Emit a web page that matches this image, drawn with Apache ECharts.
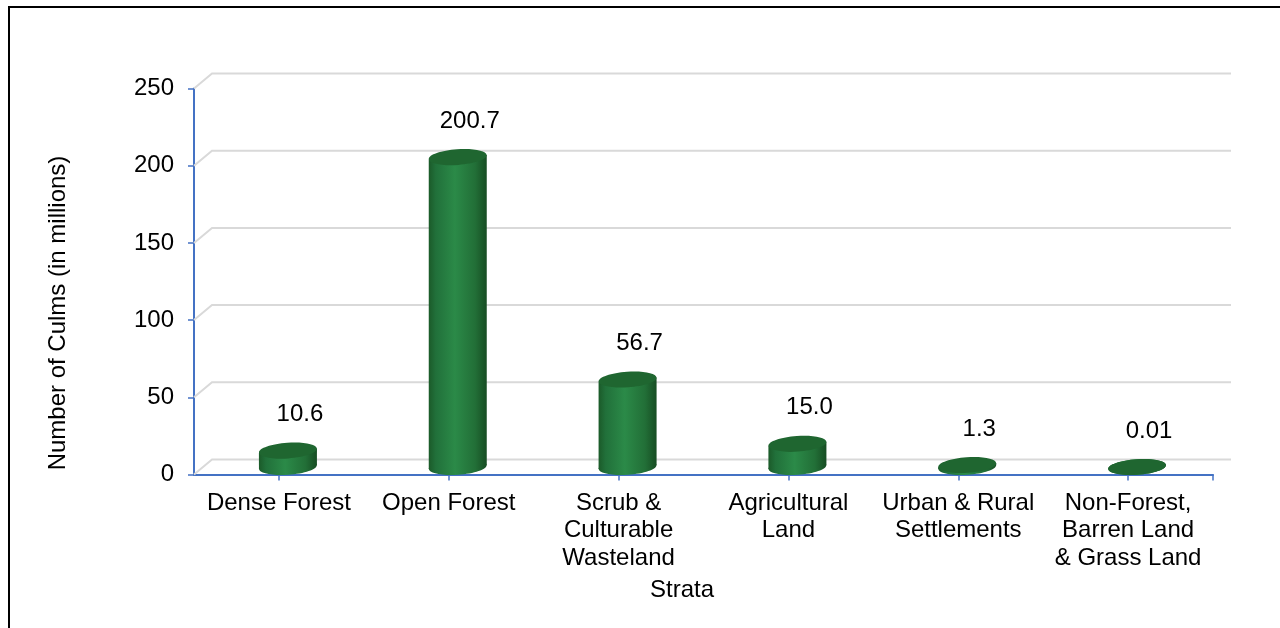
<!DOCTYPE html>
<html>
<head>
<meta charset="utf-8">
<script src="https://cdn.jsdelivr.net/npm/echarts@6/dist/echarts.min.js"></script>
<style>
html,body{margin:0;padding:0;background:#fff;overflow:hidden;}
#frame{position:absolute;left:8px;top:6px;width:1400px;height:800px;border:2.5px solid #000;box-sizing:border-box;}
#chart{position:absolute;left:0;top:0;width:1280px;height:628px;}
</style>
</head>
<body>
<div id="frame"></div>
<div id="chart"></div>
<script>
var categories = ['Dense Forest', 'Open Forest', 'Scrub &\nCulturable\nWasteland', 'Agricultural\nLand', 'Urban & Rural\nSettlements', 'Non-Forest,\nBarren Land\n& Grass Land'];
var values = [10.6, 200.7, 56.7, 15.0, 1.3, 0.01];
var valueLabels = ['10.6', '200.7', '56.7', '15.0', '1.3', '0.01'];
var yTicks = [0, 50, 100, 150, 200, 250];
var yAxisName = 'Number of Culms (in millions)';
var xAxisName = 'Strata';

var FONT = '"Liberation Sans", Arial, sans-serif';
var DX = 18, DY = -15;          // 3D back-wall offset
var CX = 9, CY = -7.5;          // cylinder depth offset
var RX = 29, RY = 7.8;          // cylinder radius / ellipse height
var TILT = 0.07;                // slight perspective tilt of the ellipses

var chart = echarts.init(document.getElementById('chart'), null, {renderer: 'canvas'});

function bodyGrad() {
  return new echarts.graphic.LinearGradient(0, 0, 1, 0, [
    {offset: 0, color: '#1b5a29'},
    {offset: 0.12, color: '#21703a'},
    {offset: 0.45, color: '#2b8a48'},
    {offset: 0.8, color: '#226f37'},
    {offset: 1, color: '#174d23'}
  ]);
}

var option = {
  animation: false,
  backgroundColor: 'transparent',
  grid: {left: 194, right: 67, top: 88.5, bottom: 153.5, containLabel: false},
  xAxis: {
    type: 'category',
    data: categories,
    boundaryGap: true,
    axisLine: {show: true, lineStyle: {color: '#4472C4', width: 2}},
    axisTick: {show: true, alignWithLabel: true, length: 6, lineStyle: {color: '#4472C4', width: 1.5}},
    axisLabel: {interval: 0, color: '#000', fontSize: 24, fontFamily: FONT, lineHeight: 27.5, margin: 15},
    splitLine: {show: false}
  },
  yAxis: {
    type: 'value',
    min: 0, max: 250, interval: 50,
    axisLine: {show: true, lineStyle: {color: '#4472C4', width: 2}},
    axisTick: {show: true, length: 6, lineStyle: {color: '#4472C4', width: 1.5}},
    axisLabel: {color: '#000', fontSize: 24, fontFamily: FONT, margin: 20},
    splitLine: {show: false}
  },
  graphic: [
    {type: 'text', x: 58, y: 313, rotation: Math.PI / 2,
     style: {text: yAxisName, fill: '#000', font: '24px ' + FONT, textAlign: 'center', textVerticalAlign: 'middle'}},
    {type: 'text', x: 682, y: 590,
     style: {text: xAxisName, fill: '#000', font: '24px ' + FONT, textAlign: 'center', textVerticalAlign: 'middle'}}
  ],
  series: [
    {
      type: 'custom',
      z: 1,
      silent: true,
      data: yTicks.map(function (v) { return [0, v]; }),
      renderItem: function (params, api) {
        var cs = params.coordSys;
        var v = api.value(1);
        var y = api.coord([0, v])[1];
        var x0 = cs.x, x1 = cs.x + cs.width;
        var children = [{
          type: 'polyline',
          shape: {points: [[x0, y], [x0 + DX, y + DY], [x1 + DX, y + DY]]},
          style: {stroke: '#d9d9d9', lineWidth: 2, fill: null}
        }];
        if (v === 0) {
          children.push({type: 'line', shape: {x1: x1, y1: y, x2: x1, y2: y + 6},
            style: {stroke: '#4472C4', lineWidth: 1.5}, z2: 10});
        }
        return {type: 'group', children: children};
      }
    },
    {
      type: 'custom',
      z: 5,
      silent: true,
      data: values.map(function (v, i) { return [i, v]; }),
      renderItem: function (params, api) {
        var i = api.value(0), v = api.value(1);
        var top = api.coord([i, v]);
        var base = api.coord([i, 0]);
        var cx = top[0] + CX;
        var ty = top[1] + CY;
        var by = base[1] + CY;
        var h = Math.max(0, by - ty);
        var t = RX * Math.sin(TILT);
        var children = [];
        children.push({type: 'ellipse', shape: {cx: cx, cy: by, rx: RX, ry: RY},
          rotation: TILT, originX: cx, originY: by, style: {fill: bodyGrad()}});
        if (h > 0.5) {
          children.push({type: 'polygon', shape: {points: [
            [cx - RX, ty + t], [cx + RX, ty - t], [cx + RX, by - t], [cx - RX, by + t]
          ]}, style: {fill: bodyGrad()}});
        }
        children.push({type: 'ellipse', shape: {cx: cx, cy: ty, rx: RX, ry: RY},
          rotation: TILT, originX: cx, originY: ty, style: {fill: '#1f6630'}});
        children.push({type: 'text', x: cx + 12, y: ty - 36,
          style: {text: valueLabels[i], fill: '#000', font: '24px ' + FONT, textAlign: 'center', textVerticalAlign: 'middle'}});
        return {type: 'group', children: children};
      }
    }
  ]
};
chart.setOption(option);
</script>
</body>
</html>
